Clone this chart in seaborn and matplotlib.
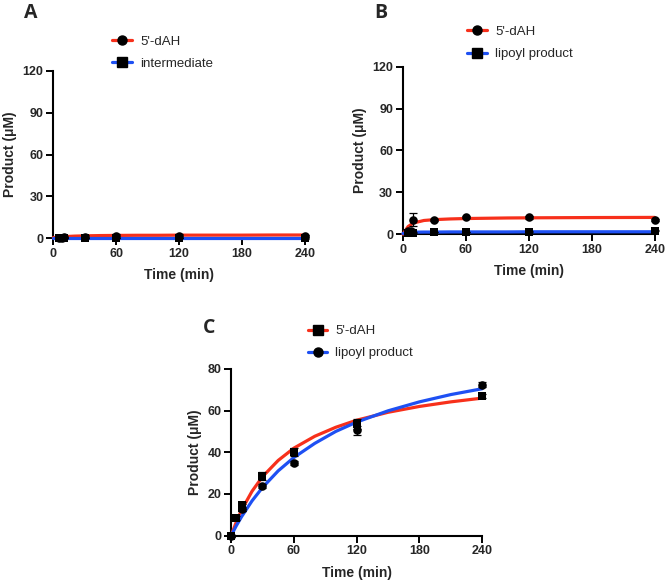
import matplotlib
matplotlib.use('Agg')
from matplotlib import pyplot as plt
from matplotlib.lines import Line2D
import seaborn as sns

RED = '#f7301b'
BLUE = '#1e50f3'

# fitted-curve sample times
fit_time = [0, 5, 10, 20, 30, 45, 60, 80, 100, 120, 150, 180, 210, 240]

# panel A
a_time = [5, 8, 10, 30, 60, 120, 240]
a_dah = [0.4, 0.5, 0.6, 1.2, 1.6, 1.6, 1.5]
a_dah_err = [0.3, 0.3, 0.3, 0.8, 1.2, 1.2, 1.0]
a_int = [0.0, 0.0, 0.0, 0.1, 0.1, 0.1, 0.2]
a_int_err = [0.2, 0.2, 0.2, 0.3, 0.3, 0.3, 0.5]
a_dah_fit = [0.4, 0.8, 1.1, 1.5, 1.7, 1.9, 2.0, 2.1, 2.1, 2.2, 2.2, 2.2, 2.3, 2.3]
a_int_fit = [0.0, 0.0, 0.0, 0.0, 0.0, 0.0, 0.0, 0.0, 0.0, 0.0, 0.0, 0.0, 0.0, 0.0]

# panel B
b_time = [5, 8, 10, 30, 60, 120, 240]
b_dah = [2.0, 2.5, 10.5, 10.0, 12.5, 12.0, 10.0]
b_dah_err = [1.0, 1.0, 5.0, 0.8, 0.8, 0.8, 0.8]
b_lip = [0.5, 0.8, 1.0, 1.5, 1.5, 1.8, 2.5]
b_lip_err = [0.3, 0.3, 0.3, 0.3, 0.3, 0.3, 0.3]
b_dah_fit = [0.0, 5.5, 8.0, 9.8, 10.4, 10.9, 11.2, 11.4, 11.6, 11.7, 11.8, 11.9, 11.95, 12.0]
b_lip_fit = [0.5, 1.2, 1.4, 1.5, 1.5, 1.6, 1.6, 1.6, 1.6, 1.7, 1.7, 1.7, 1.7, 1.7]

# panel C
c_dah_time = [0, 5, 10, 10, 30, 60, 120, 240]
c_dah = [0.0, 8.5, 13.5, 14.5, 28.5, 40.0, 53.5, 67.0]
c_dah_err = [0.5, 1.0, 1.5, 1.5, 2.0, 2.0, 2.5, 1.0]
c_lip_time = [0, 10, 30, 60, 120, 240]
c_lip = [0.0, 13.0, 24.0, 35.0, 50.5, 72.5]
c_lip_err = [0.5, 1.0, 1.0, 1.0, 2.0, 1.0]
c_dah_fit = [0.0, 6.6, 12.3, 21.3, 28.3, 36.1, 42.0, 47.7, 52.0, 55.4, 59.2, 62.0, 64.2, 66.0]
c_lip_fit = [0.0, 4.8, 9.1, 16.7, 23.1, 31.1, 37.5, 44.3, 50.0, 54.5, 59.9, 64.2, 67.7, 70.5]

x_ticks = [0, 60, 120, 180, 240]

sns.set_style('ticks')
plt.rcParams['font.family'] = ['Liberation Sans', 'DejaVu Sans']

fig = plt.figure(figsize=(6.66, 5.81), dpi=100)


def draw_panel(rect, label, label_xy, legend_xy, ymax, ystep, series):
    ax = fig.add_axes(rect)
    handles = []
    for t, y, err, ft, fy, color, marker, name in series:
        sns.lineplot(x=ft, y=fy, ax=ax, color=color, linewidth=2.3, zorder=3,
                     clip_on=False)
        ax.errorbar(t, y, yerr=err, fmt='none', ecolor='black', elinewidth=0.9,
                    capsize=3, capthick=0.9, zorder=4, clip_on=False)
        sns.scatterplot(x=t, y=y, ax=ax, marker=marker, color='black', s=38,
                        edgecolor='black', linewidth=0, zorder=5, clip_on=False)
        handles.append(Line2D([], [], color=color, linewidth=2.3, marker=marker,
                              markersize=6.5, markerfacecolor='black',
                              markeredgecolor='black', label=name))
    ax.set_xlim(0, 240)
    ax.set_ylim(0, ymax)
    ax.set_xticks(x_ticks)
    ax.set_yticks(list(range(0, ymax + 1, ystep)))
    ax.set_xlabel('Time (min)', fontsize=10, fontweight='bold', labelpad=6)
    ax.set_ylabel('Product (\u03bcM)', fontsize=10, fontweight='bold', labelpad=4)
    for tl in ax.get_xticklabels() + ax.get_yticklabels():
        tl.set_fontweight('bold')
        tl.set_fontsize(9)
    ax.tick_params(width=1.4, length=5, pad=2, color='black')
    sns.despine(ax=ax)
    for side in ['left', 'bottom']:
        ax.spines[side].set_linewidth(1.5)
        ax.spines[side].set_color('black')
    fig.legend(handles=handles, loc='upper left', bbox_to_anchor=legend_xy,
               frameon=False, fontsize=9.5, handlelength=1.5, handletextpad=0.6,
               labelspacing=0.75, borderpad=0)
    fig.text(label_xy[0], label_xy[1], label, fontsize=14, fontweight='bold',
             family=['Open Sans', 'DejaVu Sans'], ha='left', va='baseline')
    return ax


draw_panel([0.080, 0.590, 0.378, 0.288], 'A', (0.036, 0.969), (0.159, 0.950), 120, 30, [
    (a_time, a_int, a_int_err, fit_time, a_int_fit, BLUE, 's', 'intermediate'),
    (a_time, a_dah, a_dah_err, fit_time, a_dah_fit, RED, 'o', "5'-dAH"),
][::-1])
draw_panel([0.605, 0.597, 0.378, 0.288], 'B', (0.562, 0.969), (0.692, 0.967), 120, 30, [
    (b_time, b_dah, b_dah_err, fit_time, b_dah_fit, RED, 'o', "5'-dAH"),
    (b_time, b_lip, b_lip_err, fit_time, b_lip_fit, BLUE, 's', 'lipoyl product'),
])
draw_panel([0.347, 0.078, 0.377, 0.287], 'C', (0.304, 0.427), (0.452, 0.452), 80, 20, [
    (c_dah_time, c_dah, c_dah_err, fit_time, c_dah_fit, RED, 's', "5'-dAH"),
    (c_lip_time, c_lip, c_lip_err, fit_time, c_lip_fit, BLUE, 'o', 'lipoyl product'),
])

fig.savefig('out.png', dpi=100)
